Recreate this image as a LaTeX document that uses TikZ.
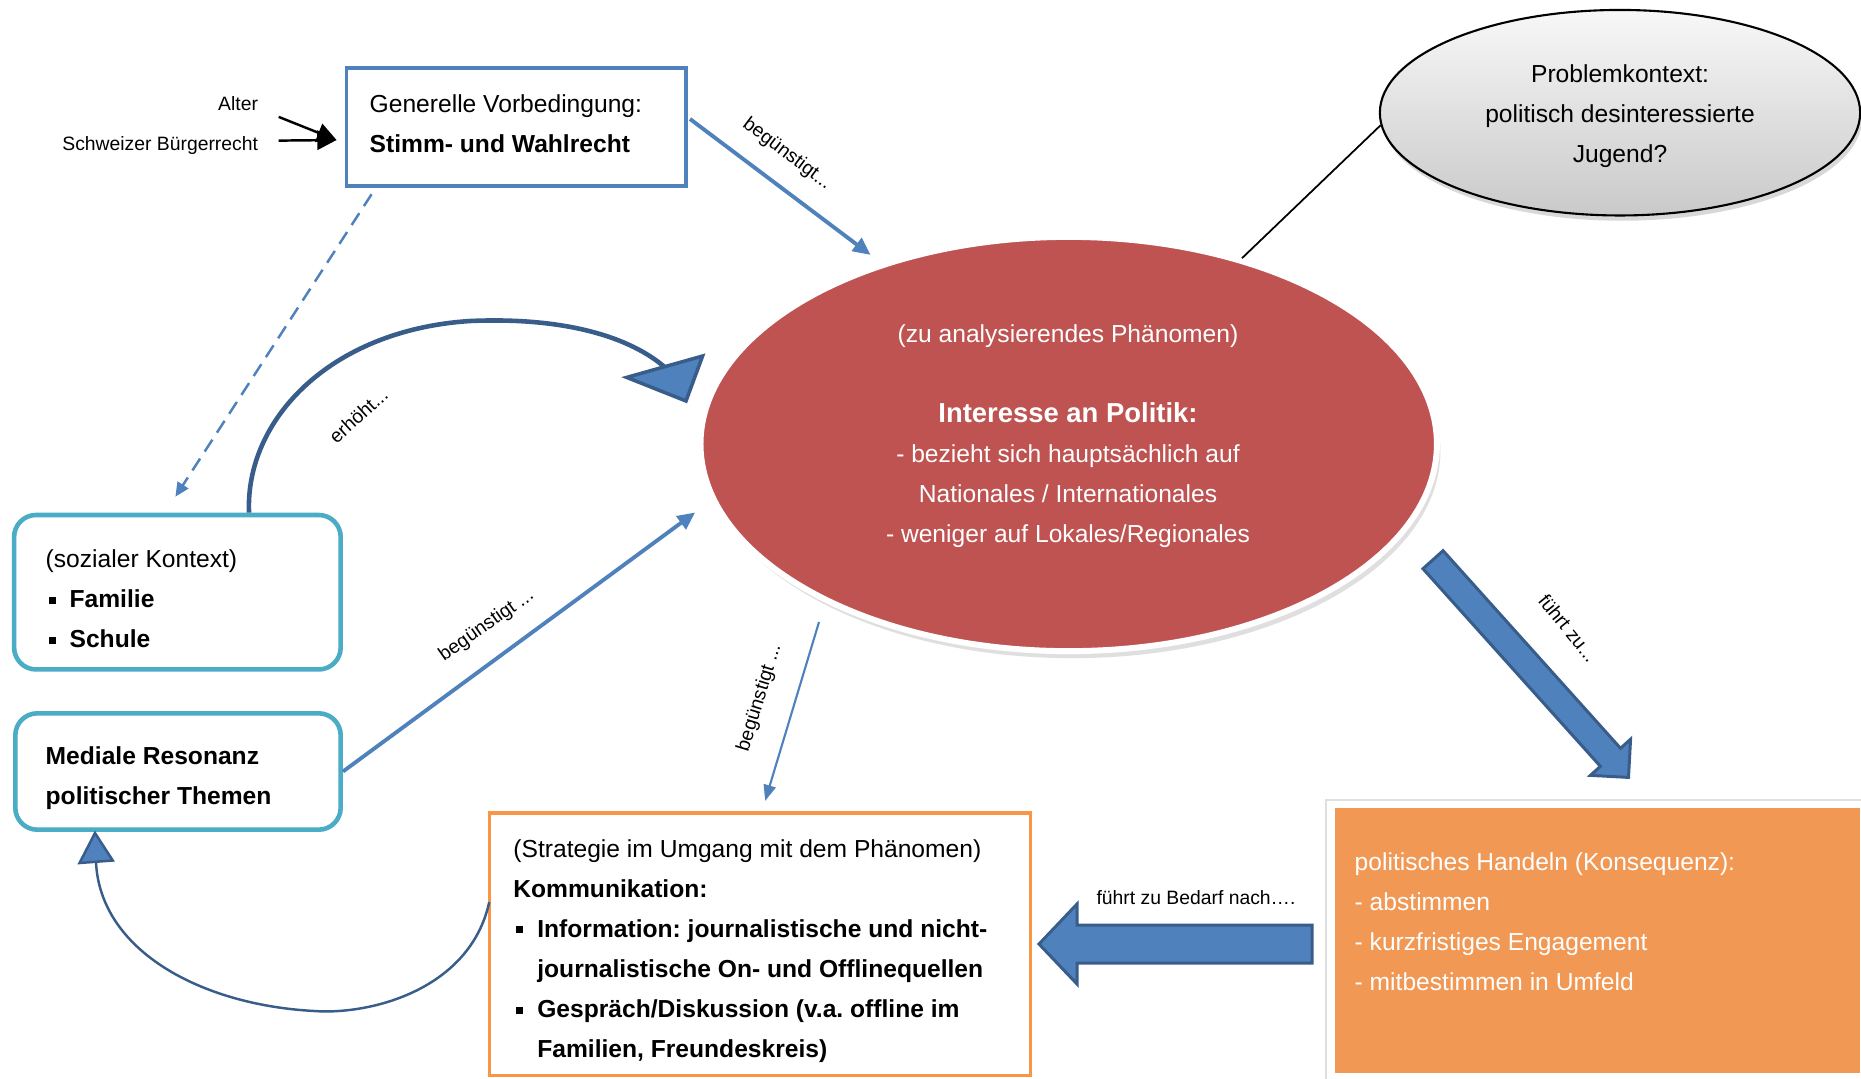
\documentclass[tikz,border=0pt]{standalone}
\usepackage{fontspec}
\setmainfont{Liberation Sans}
\usetikzlibrary{arrows.meta,shapes.geometric,shadows,calc}
\definecolor{cblue}{RGB}{79,129,189}
\definecolor{cdblue}{RGB}{56,93,138}
\definecolor{cteal}{RGB}{75,172,198}
\definecolor{corange}{RGB}{247,150,70}
\definecolor{chand}{RGB}{240,152,84}
\definecolor{cred}{RGB}{190,83,82}
\newcommand{\sqbul}{\hspace*{0.85pt}\rule[1.2pt]{2pt}{2pt}\hspace*{3.95pt}}
\frenchspacing
\begin{document}
\begin{tikzpicture}[x=0.01cm,y=-0.01cm,
  btxt/.style={inner sep=0pt, font=\fontsize{7}{11.4}\selectfont\frenchspacing, align=left},
  lbl/.style={inner sep=0pt, font=\fontsize{5.5}{7}\selectfont},
  blockarrow/.style={fill=cblue, draw=cdblue, line width=0.85pt, line join=miter}]
\useasboundingbox (0,0) rectangle (1861,1078);
\fill[white] (0,0) rectangle (1861,1078);

% ---------- nodes ----------
\node[draw=cblue, line width=1.1pt, minimum width=3.394cm, minimum height=1.186cm, inner sep=0pt] (gv) at (516.3,127) {};
\node[btxt, anchor=west] (gvt) at (369,123.3) {Generelle Vorbedingung:\\\textbf{Stimm- und Wahlrecht}};

\node[lbl, anchor=base east] (alter) at (258.7,110) {Alter};
\node[lbl, anchor=base east] (sbr) at (258.7,150.6) {Schweizer Bürgerrecht};

\node[ellipse, draw=black, line width=0.6pt, top color=gray!6, bottom color=gray!42,
      minimum width=4.8cm, minimum height=2.054cm, inner sep=0pt,
      drop shadow={opacity=0.3, shadow xshift=0.6pt, shadow yshift=-1.5pt}] (prob) at (1620,112.7) {};
\node[btxt, align=center] (probt) at (1620,116.5) {Problemkontext:\\politisch desinteressierte\\Jugend?};

\node[ellipse, fill=cred, draw=white, line width=1.7pt, minimum width=7.36cm, minimum height=4.14cm, inner sep=0pt,
      drop shadow={opacity=0.25, shadow xshift=1pt, shadow yshift=-2pt}] (red) at (1068.7,444) {};
\node[btxt, align=center, text=white] (redt) at (1068,436) {(zu analysierendes Phänomen)\\[11.4pt]{\fontsize{7.8}{11.4}\selectfont\textbf{Interesse an Politik:}}\\- bezieht sich hauptsächlich auf\\Nationales / Internationales\\- weniger auf Lokales/Regionales};

\node[draw=cteal, line width=1.3pt, rounded corners=0.22cm, minimum width=3.264cm, minimum height=1.544cm, inner sep=0pt] (soz) at (177.4,592.2) {};
\node[btxt, anchor=west] (sozt) at (45,599) {(sozialer Kontext)\\\sqbul\textbf{Familie}\\\sqbul\textbf{Schule}};

\node[draw=cteal, line width=1.3pt, rounded corners=0.22cm, minimum width=3.252cm, minimum height=1.163cm, inner sep=0pt] (med) at (178,771.5) {};
\node[btxt, anchor=west] (medt) at (45,778) {\textbf{Mediale Resonanz}\\\textbf{politischer Themen}};

\node[draw=corange, line width=0.9pt, fill=white, minimum width=5.4cm, minimum height=2.62cm, inner sep=0pt] (strat) at (760,944) {};
\node[btxt, anchor=west] (stratt) at (512.7,951.3) {(Strategie im Umgang mit dem Phänomen)\\
\textbf{Kommunikation:}\\
\sqbul\textbf{Information: journalistische und nicht-}\\
\hspace*{6.8pt}\textbf{journalistische On- und Offlinequellen}\\
\sqbul\textbf{Gespräch/Diskussion (v.a. offline im}\\
\hspace*{6.8pt}\textbf{Familien, Freundeskreis)}};

\draw[gray!25, fill=white, line width=0.4pt] (1326,800) rectangle (1890,1095);
\node[fill=chand, minimum width=5.25cm, minimum height=2.65cm, inner sep=0pt] (hand) at (1597.5,940.5) {};
\node[btxt, anchor=west, text=white] (handt) at (1354,921.5) {politisches Handeln (Konsequenz):\\- abstimmen\\- kurzfristiges Engagement\\- mitbestimmen in Umfeld};

% ---------- connectors ----------
\draw[black, line width=0.7pt, -{Triangle[length=5.5pt,width=5.5pt]}] ($(alter.south east)+(20,6)$) -- ($(gv.west)+(-8,13)$);
\draw[black, line width=0.7pt, -{Triangle[length=5.5pt,width=5.5pt]}] ($(sbr.east)+(20,-5)$) -- ($(gv.west)+(-8,13)$);

\draw[cblue, line width=1.1pt, -{Triangle[length=5pt,width=4.5pt]}, shorten >=0.13cm] ($(gv.east)+(2,-8)$) -- (red.136);
\node[lbl, rotate=-37] (l1) at (787,154) {begünstigt...};

\draw[black, line width=0.5pt] (prob.183) -- (red.47);

\draw[cblue, line width=0.7pt, dash pattern=on 4pt off 2.4pt, -{Triangle[length=4pt,width=3.6pt]}] ($(gv.south west)+(27,6)$) -- ($(soz.north)+(-2,-16)$);

% erhoeht curve
\coordinate (erhend) at (668,370);
\draw[cdblue, line width=1.3pt] ([xshift=0.716cm]soz.north) .. controls (245,420) and (330,330) .. (470,321) .. controls (560,317) and (630,335) .. (erhend);
\filldraw[fill=cblue, draw=cdblue, line width=1pt, line join=miter] ($(erhend)+(-41.3,7.4)$) -- ($(erhend)+(34.6,-14)$) -- ($(erhend)+(18,31)$) -- cycle;
\node[lbl, rotate=42] (l2) at (358.4,415.4) {erhöht...};

\draw[cblue, line width=1.1pt, -{Triangle[length=5pt,width=4.5pt]}, shorten >=0.2cm] (med.east) -- (red.189);
\node[lbl, rotate=35] (l3) at (486.6,625.5) {begünstigt ...};

\coordinate (vstart) at (819,622);
\draw[cblue, line width=0.6pt, -{Triangle[length=4.5pt,width=3.5pt]}, shorten >=0.11cm] (vstart) -- ($(strat.north)+(2,0)$);
\node[lbl, rotate=73] (l4) at (759.6,698) {begünstigt ...};

% lower curve
\coordinate (lcend) at (96,862);
\draw[cdblue, line width=0.7pt] ($(strat.west)+(1,-42)$) .. controls (470,990) and (370,1015) .. (314.5,1011) .. controls (200,1005) and (100,950) .. (lcend);
\filldraw[fill=cblue, draw=cdblue, line width=0.7pt, line join=miter] ($(lcend)+(-16.5,1)$) -- ($(lcend)+(-1,-29)$) -- ($(lcend)+(16.8,-1.5)$) -- cycle;

% block arrow red -> hand
\coordinate (fz1) at (1433,559.7);
\coordinate (fz2) at (1628.5,777.4);
\coordinate (fzb) at ($(fz2)!0.27cm!(fz1)$);
\draw[blockarrow] ($(fz1)!0.135cm!90:(fz2)$) -- ($(fzb)!0.135cm!90:(fz2)$) -- ($(fzb)!0.27cm!90:(fz2)$) -- (fz2)
  -- ($(fzb)!0.27cm!-90:(fz2)$) -- ($(fzb)!0.135cm!-90:(fz2)$) -- ($(fz1)!0.135cm!-90:(fz2)$) -- cycle;
\node[lbl, rotate=-51] (l5) at (1568,628) {führt zu...};

% block arrow hand -> strat
\coordinate (fb1) at (1312,944);
\coordinate (fb2) at (1039,944);
\draw[blockarrow] ($(fb1)+(0,-19)$) -- ($(fb2)+(38,-19)$) -- ($(fb2)+(38,-40)$) -- (fb2) -- ($(fb2)+(38,40)$) -- ($(fb2)+(38,19)$) -- ($(fb1)+(0,19)$) -- cycle;
\node[lbl] (l6) at (1196,897.3) {führt zu Bedarf nach….};
\end{tikzpicture}
\end{document}
